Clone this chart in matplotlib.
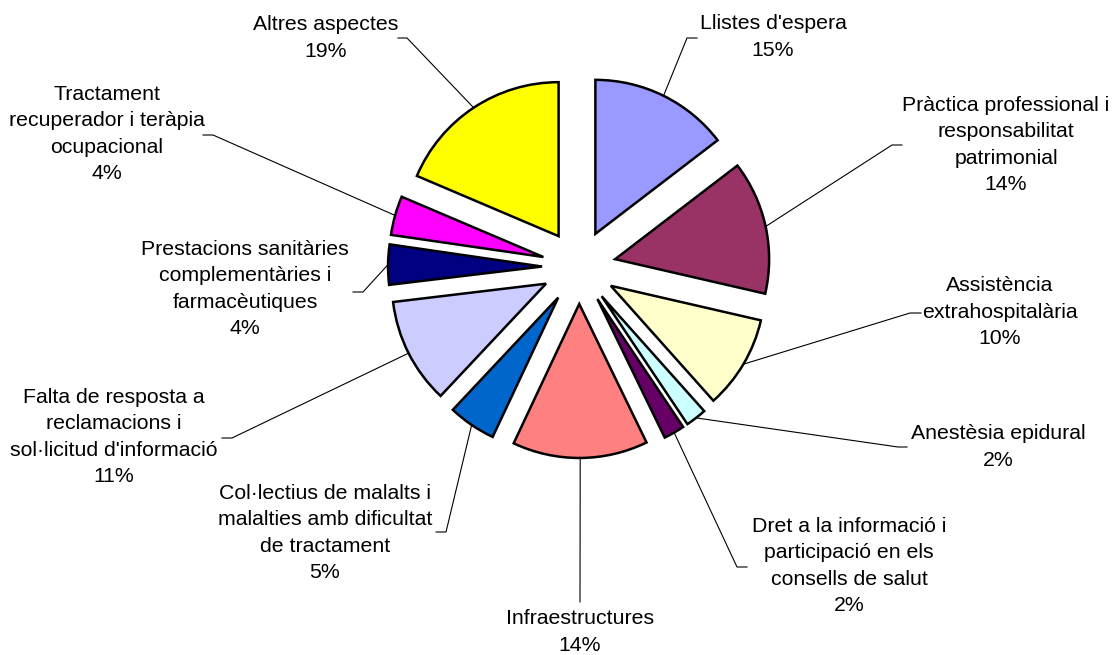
import numpy as np
import matplotlib
matplotlib.use("Agg")
from matplotlib import pyplot as plt

plt.rcParams["font.family"] = ["Liberation Sans", "DejaVu Sans"]

W, H = 1118, 655

categories = [
    "Llistes d'espera",
    "Pràctica professional i\nresponsabilitat\npatrimonial",
    "Assistència\nextrahospitalària",
    "Anestèsia epidural",
    "Dret a la informació i\nparticipació en els\nconsells de salut",
    "Infraestructures",
    "Col·lectius de malalts i\nmalalties amb dificultat\nde tractament",
    "Falta de resposta a\nreclamacions i\nsol·licitud d'informació",
    "Prestacions sanitàries\ncomplementàries i\nfarmacèutiques",
    "Tractament\nrecuperador i teràpia\nocupacional",
    "Altres aspectes",
]
shares = [14.6, 14.0, 9.8, 2.2, 2.2, 14.2, 5.0, 11.1, 4.2, 4.1, 18.6]
colors = ["#9999FF", "#993366", "#FFFFCC", "#CCFFFF", "#660066", "#FF8080",
          "#0066CC", "#CCCCFF", "#000080", "#FF00FF", "#FFFF00"]

# label block centres and leader elbows, in pixels from the top-left corner
label_pos = [(773, 37), (1006, 145), (1000, 312), (998, 447), (849, 566),
             (580, 632), (325, 533), (114, 437), (245, 289), (107, 134), (326, 38)]
elbows = [((687, 38), (697, 38)), ((892, 145), (902, 145)),
          ((910, 313), (921, 313)), ((898, 447), (907, 447)),
          ((737, 567), (747, 567)), ((580, 602), (580, 602)),
          ((446, 532), (436, 532)), ((232, 438), (222, 438)),
          ((363, 292), (353, 292)), ((213, 135), (203, 135)),
          ((407, 38), (398, 38))]

cx, cy, r = 579, H - 267, 154
# pie() takes the explode offset in data units, so scale it by the radius
explode = [0.24 * r] * len(shares)

fig = plt.figure(figsize=(W / 100, H / 100), dpi=100)
ax = fig.add_axes([0, 0, 1, 1])
wedges, _ = ax.pie(shares, colors=colors, explode=explode, startangle=90,
                   counterclock=False, center=(cx, cy), radius=r,
                   wedgeprops=dict(edgecolor="black", linewidth=1.8))
ax.set_xlim(0, W)
ax.set_ylim(0, H)
ax.set_aspect("equal")
ax.axis("off")

for w, name, val, (lx, ly), (e1, e2) in zip(wedges, categories, shares, label_pos, elbows):
    mid = np.deg2rad((w.theta1 + w.theta2) / 2)
    wx, wy = w.center
    px = wx + w.r * np.cos(mid)
    py = wy + w.r * np.sin(mid)
    ax.plot([px, e1[0], e2[0]], [py, H - e1[1], H - e2[1]],
            color="black", linewidth=0.8, zorder=0)
    ax.text(lx, H - ly, f"{name}\n{val:.0f}%", ha="center", va="center",
            fontsize=15.3, linespacing=1.5, color="black")

fig.savefig("out.png", dpi=100)
